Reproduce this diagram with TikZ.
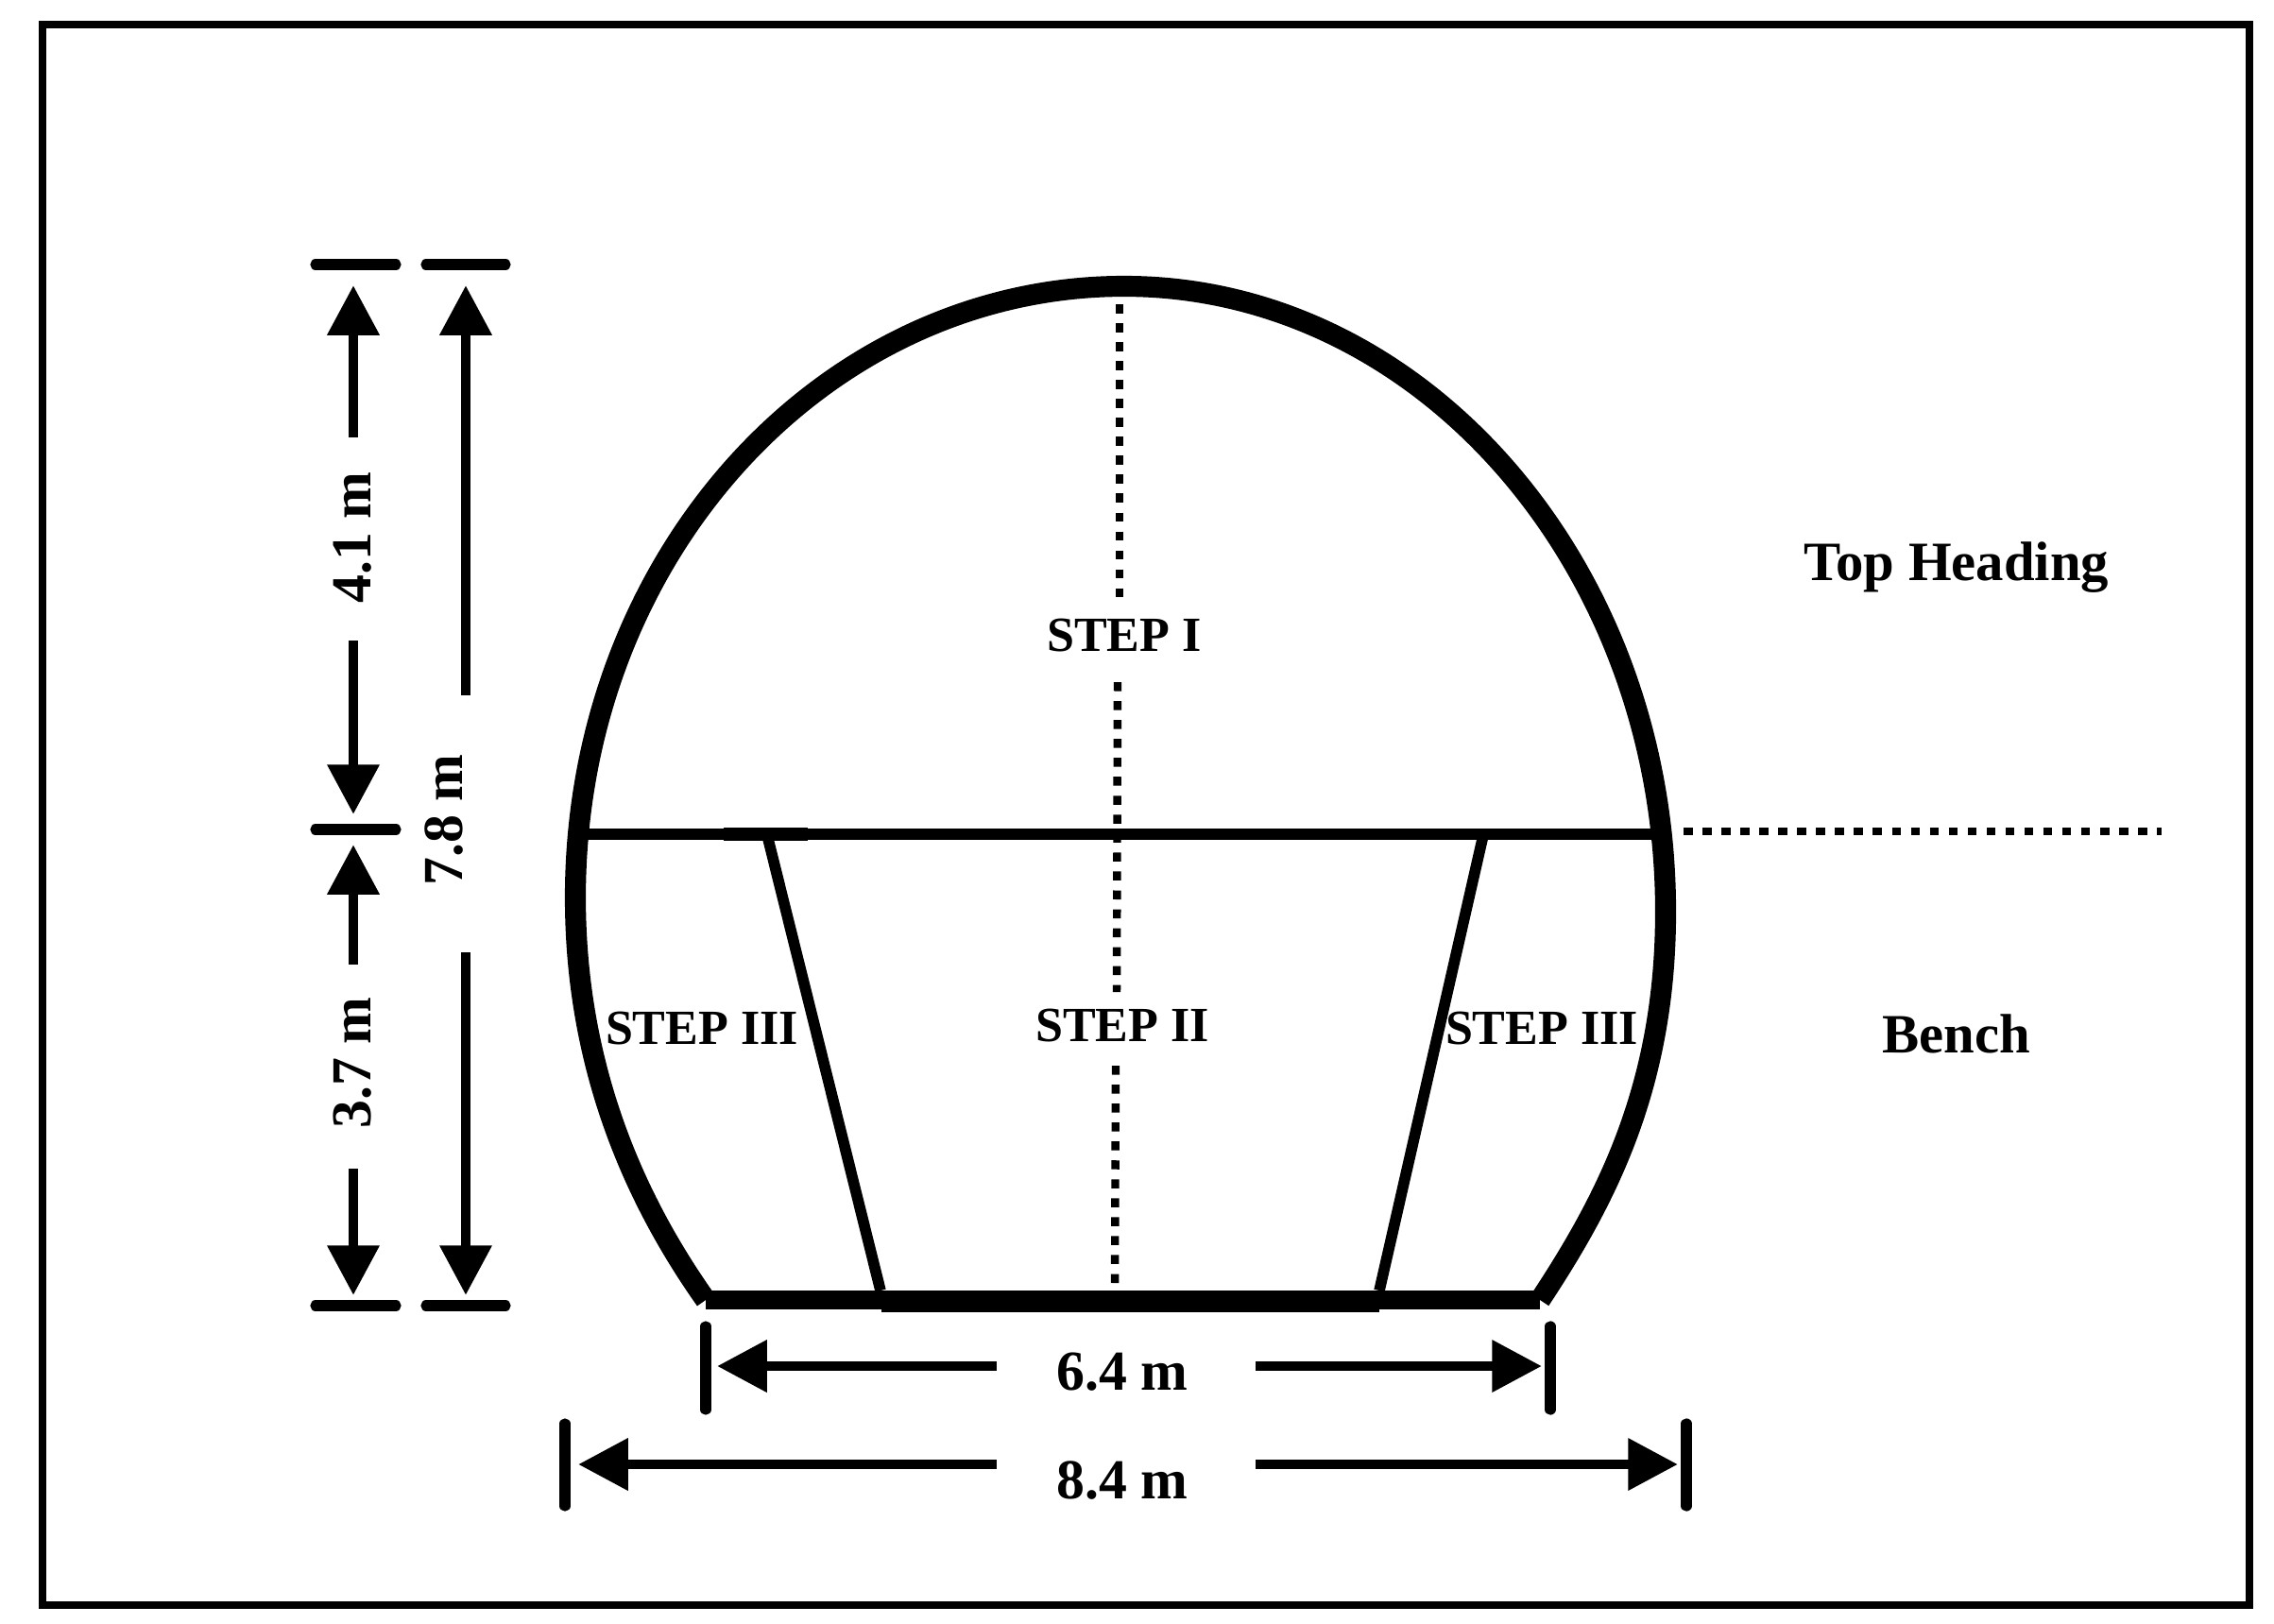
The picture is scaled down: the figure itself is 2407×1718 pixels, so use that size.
\documentclass[tikz,border=0pt]{standalone}
\usepackage{fontspec}
\setmainfont{Liberation Serif}
\usetikzlibrary{arrows.meta}
\tikzset{
  x=0.01cm,y=-0.01cm,
  frameline/.style={draw=black,line width=2.1pt},
  arch/.style={draw=black,line width=6.3pt,line join=miter},
  baseline/.style={draw=black,line width=5.6pt},
  basemid/.style={draw=black,line width=6.1pt},
  cut/.style={draw=black,line width=3.3pt},
  cutbump/.style={draw=black,line width=3.8pt},
  dotline/.style={draw=black,line width=2.4pt,dash pattern=on 2.7pt off 3pt},
  tick/.style={draw=black,line width=3.2pt,line cap=round},
  dim/.style={draw=black,line width=3.1pt,-{Triangle[length=15pt,width=15pt]}},
  lab/.style={font=\bfseries\fontsize{14.8pt}{16pt}\selectfont,inner sep=0pt},
  side/.style={font=\bfseries\fontsize{16.7pt}{18pt}\selectfont,inner sep=0pt},
  dimlab/.style={font=\bfseries\fontsize{17pt}{18pt}\selectfont,inner sep=0pt},
}
\begin{document}
\begin{tikzpicture}
\useasboundingbox (0,0) rectangle (2407,1718);
\fill[white] (0,0) rectangle (2407,1718);
\draw[frameline] (45,26) rectangle (2381,1699);
% key points
\coordinate (top) at (1190,303);
\coordinate (L) at (609,950);
\coordinate (R) at (1763,965);
\coordinate (BL) at (747,1376);
\coordinate (BR) at (1630,1376);
\coordinate (BMl) at (933,1378);
\coordinate (BMr) at (1460,1378);
\coordinate (HL) at (613,883);
\coordinate (HR) at (1757,883);
\coordinate (HBa) at (766,883);
\coordinate (HBb) at (855,883);
\coordinate (SLt) at (812,884);
\coordinate (SLb) at (932,1366);
\coordinate (SRt) at (1570,884);
\coordinate (SRb) at (1460,1366);
% cuts
\draw[cut] (HL) -- (HR);
\draw[cutbump] (HBa) -- (HBb);
\draw[cut] (SLt) -- (SLb);
\draw[cut] (SRt) -- (SRb);
% dotted centre line and level
\coordinate (d1) at (1185,322);
\coordinate (d2) at (1185,632);
\coordinate (d3) at (1183,722);
\coordinate (d4) at (1182,1050);
\coordinate (d5) at (1181,1128);
\coordinate (d6) at (1180,1366);
\coordinate (e1) at (1782,880);
\coordinate (e2) at (2288,880);
\draw[dotline] (d1) -- (d2);
\draw[dotline] (d3) -- (d4);
\draw[dotline] (d5) -- (d6);
\draw[dotline] (e1) -- (e2);
% arch
\draw[arch] (BL)
  .. controls (672,1270) and (609,1130) .. (L)
  .. controls (609,590) and (870,303) .. (top)
  .. controls (1506,303) and (1763,600) .. (R)
  .. controls (1763,1150) and (1700,1270) .. (BR);
\draw[baseline] (BL) -- (BR);
\draw[basemid] (BMl) -- (BMr);
% vertical ticks
\coordinate (t1a) at (334,280); \coordinate (t1b) at (419,280);
\coordinate (t2a) at (451,280); \coordinate (t2b) at (535,280);
\coordinate (t3a) at (334,878); \coordinate (t3b) at (419,878);
\coordinate (t4a) at (334,1382); \coordinate (t4b) at (419,1382);
\coordinate (t5a) at (451,1382); \coordinate (t5b) at (535,1382);
\draw[tick] (t1a) -- (t1b);
\draw[tick] (t2a) -- (t2b);
\draw[tick] (t3a) -- (t3b);
\draw[tick] (t4a) -- (t4b);
\draw[tick] (t5a) -- (t5b);
% vertical dimensions
\node[dimlab,rotate=90] (d41) at (373,569) {4.1 m};
\node[dimlab,rotate=90] (d37) at (373,1125) {3.7 m};
\node[dimlab,rotate=90] (d78) at (470,868) {7.8 m};
\coordinate (a1s) at (374,463); \coordinate (a1e) at (374,302);
\coordinate (a2s) at (374,678); \coordinate (a2e) at (374,862);
\coordinate (a3s) at (374,1021); \coordinate (a3e) at (374,894);
\coordinate (a4s) at (374,1237); \coordinate (a4e) at (374,1371);
\coordinate (a5s) at (493,736); \coordinate (a5e) at (493,302);
\coordinate (a6s) at (493,1008); \coordinate (a6e) at (493,1371);
\draw[dim] (a1s) -- (a1e);
\draw[dim] (a2s) -- (a2e);
\draw[dim] (a3s) -- (a3e);
\draw[dim] (a4s) -- (a4e);
\draw[dim] (a5s) -- (a5e);
\draw[dim] (a6s) -- (a6e);
% horizontal dimensions
\coordinate (h1a) at (747,1404); \coordinate (h1b) at (747,1492);
\coordinate (h2a) at (1641,1404); \coordinate (h2b) at (1641,1492);
\coordinate (h3a) at (598,1507); \coordinate (h3b) at (598,1594);
\coordinate (h4a) at (1785,1507); \coordinate (h4b) at (1785,1594);
\draw[tick] (h1a) -- (h1b);
\draw[tick] (h2a) -- (h2b);
\draw[tick] (h3a) -- (h3b);
\draw[tick] (h4a) -- (h4b);
\coordinate (b1s) at (1055,1446); \coordinate (b1e) at (759,1446);
\coordinate (b2s) at (1329,1446); \coordinate (b2e) at (1632,1446);
\coordinate (b3s) at (1055,1550); \coordinate (b3e) at (612,1550);
\coordinate (b4s) at (1329,1550); \coordinate (b4e) at (1776,1550);
\draw[dim] (b1s) -- (b1e);
\draw[dim] (b2s) -- (b2e);
\draw[dim] (b3s) -- (b3e);
\draw[dim] (b4s) -- (b4e);
\node[dimlab] (d64) at (1188,1452) {6.4 m};
\node[dimlab] (d84) at (1188,1567) {8.4 m};
% labels
\node[lab] (s1) at (1190,673) {STEP I};
\node[lab] (s2) at (1188,1086) {STEP II};
\node[lab] (s3l) at (743,1089) {STEP III};
\node[lab] (s3r) at (1632,1089) {STEP III};
\node[side] (th) at (2071,601) {Top Heading};
\node[side] (be) at (2071,1094) {Bench};
\end{tikzpicture}
\end{document}
